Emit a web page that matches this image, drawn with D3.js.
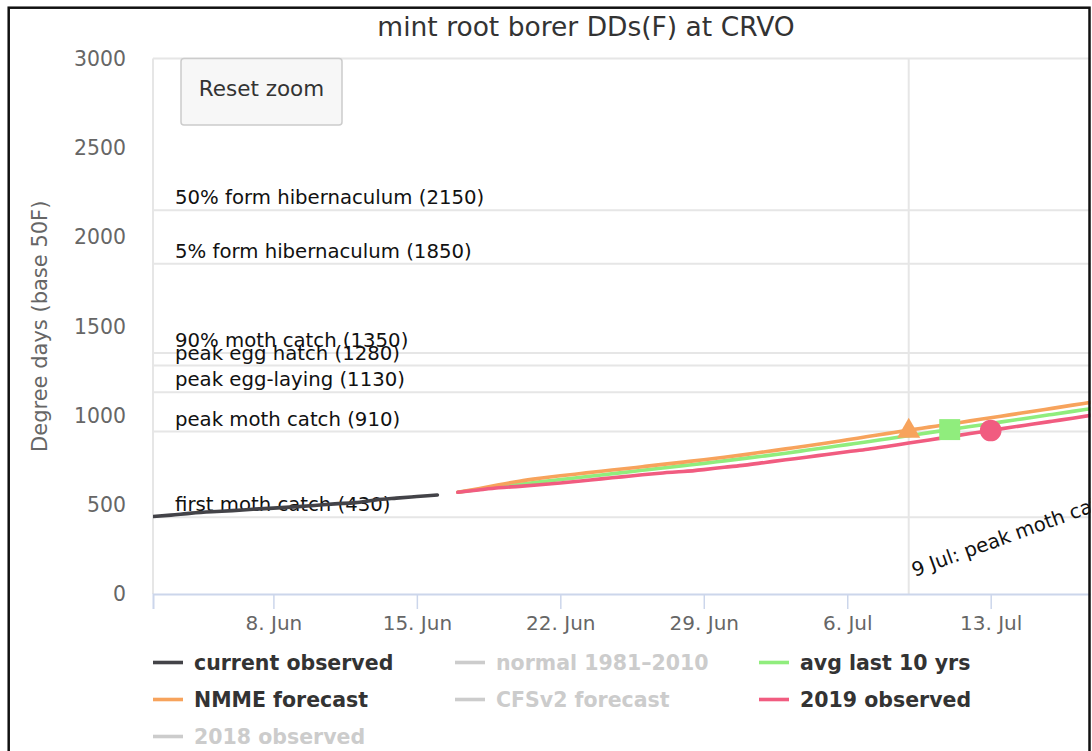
<!DOCTYPE html>
<html><head><meta charset="utf-8">
<script src="https://cdn.jsdelivr.net/npm/d3@7"></script>
<style>
body{margin:0;background:#fff}
svg{display:block}
text{font-family:"DejaVu Sans",sans-serif}
</style>
</head><body>
<svg id="c" width="1092" height="751"></svg>
<script>
// ---------- data ----------
const chartTitle = "mint root borer DDs(F) at CRVO";
const yAxisTitle = "Degree days (base 50F)";
const yTicks = [0, 500, 1000, 1500, 2000, 2500, 3000];
const xTickDates = ["2020-06-08", "2020-06-15", "2020-06-22", "2020-06-29", "2020-07-06", "2020-07-13"];
const xTickLabels = ["8. Jun", "15. Jun", "22. Jun", "29. Jun", "6. Jul", "13. Jul"];

const thresholdValues = [2150, 1850, 1350, 1280, 1130, 910, 430];
const thresholdLabels = ["50% form hibernaculum (2150)", "5% form hibernaculum (1850)", "90% moth catch (1350)",
  "peak egg hatch (1280)", "peak egg-laying (1130)", "peak moth catch (910)", "first moth catch (430)"];

const eventDate = "2020-07-09";
const eventLabel = "9 Jul: peak moth catch";

const currentStart = "2020-06-02";
const currentObserved = [433, 442, 453, 461, 467, 475, 481, 488, 496, 505, 512, 527, 537, 546, 555];

const forecastStart = "2020-06-17";
const nmmeForecast = [570, 590, 612, 632, 648, 662, 675, 688, 700, 713, 726, 739, 752, 766, 781, 797,
  813, 829, 846, 864, 882, 900, 918, 935, 952, 970, 987, 1005, 1022, 1040, 1058, 1076];
const avgLast10 = [570, 585, 600, 614, 628, 641, 654, 667, 680, 693, 706, 719, 732, 746, 760, 774,
  789, 805, 821, 837, 853, 870, 887, 904, 921, 938, 955, 972, 989, 1006, 1023, 1040];
const observed2019 = [570, 583, 595, 603, 612, 622, 633, 645, 656, 668, 678, 686, 697, 710, 722, 737,
  752, 766, 782, 797, 811, 828, 846, 863, 881, 899, 916, 934, 951, 968, 985, 1003];

const legendNames = ["current observed", "normal 1981\u20132010", "avg last 10 yrs", "NMME forecast",
  "CFSv2 forecast", "2019 observed", "2018 observed"];
const legendVisible = [true, false, true, true, false, true, false];

const milestoneSeries = ["NMME forecast", "avg last 10 yrs", "2019 observed"];
const milestoneDates = ["2020-07-09", "2020-07-11", "2020-07-13"];

// ---------- styles ----------
const colors = {
  "current observed": "#434348", "normal 1981\u20132010": "#cccccc", "avg last 10 yrs": "#90ed7d",
  "NMME forecast": "#f7a35c", "CFSv2 forecast": "#cccccc", "2019 observed": "#f15c80", "2018 observed": "#cccccc"
};
const markerShapes = { "NMME forecast": d3.symbolTriangle, "avg last 10 yrs": d3.symbolSquare, "2019 observed": d3.symbolCircle };
const markerSizes = { "NMME forecast": 230, "avg last 10 yrs": 440, "2019 observed": 370 };

// ---------- layout ----------
const svg = d3.select("#c");
const plot = { left: 153, top: 58.5, right: 1100, bottom: 594 };
const parse = d3.utcParse("%Y-%m-%d");

const x = d3.scaleUtc()
  .domain([Date.UTC(2020, 5, 2, 3), Date.UTC(2020, 6, 18, 8)])
  .range([plot.left, plot.right]);
const y = d3.scaleLinear().domain([0, 3000]).range([plot.bottom, plot.top]);

function seriesPoints(start, values) {
  const s = parse(start);
  return values.map((v, i) => ({ date: d3.utcDay.offset(s, i), value: v }));
}
const series = [
  { name: "current observed", points: seriesPoints(currentStart, currentObserved) },
  { name: "avg last 10 yrs", points: seriesPoints(forecastStart, avgLast10) },
  { name: "NMME forecast", points: seriesPoints(forecastStart, nmmeForecast) },
  { name: "2019 observed", points: seriesPoints(forecastStart, observed2019) }
];

svg.append("defs").append("clipPath").attr("id", "plotclip")
  .append("rect").attr("x", plot.left).attr("y", plot.top - 12)
  .attr("width", plot.right - plot.left).attr("height", plot.bottom - plot.top + 12);

// title
svg.append("text").attr("x", 586).attr("y", 36).attr("text-anchor", "middle")
  .attr("fill", "#333").style("font-size", "26.5px").text(chartTitle);

// plot frame lines (top & left)
svg.append("line").attr("x1", plot.left).attr("x2", plot.right).attr("y1", plot.top).attr("y2", plot.top)
  .attr("stroke", "#e6e6e6").attr("stroke-width", 2);
svg.append("line").attr("x1", plot.left).attr("x2", plot.left).attr("y1", plot.top).attr("y2", plot.bottom)
  .attr("stroke", "#e6e6e6").attr("stroke-width", 2);

// threshold plot lines
const th = svg.append("g");
thresholdValues.forEach((v, i) => {
  th.append("line").attr("x1", plot.left).attr("x2", plot.right).attr("y1", y(v)).attr("y2", y(v))
    .attr("stroke", "#e6e6e6").attr("stroke-width", 2);
});
thresholdValues.forEach((v, i) => {
  th.append("text").attr("x", plot.left + 22).attr("y", y(v) - 6)
    .attr("fill", "#111").style("font-size", "19.7px").text(thresholdLabels[i]);
});

// event vertical line
const ex = x(parse(eventDate));
svg.append("line").attr("x1", ex).attr("x2", ex).attr("y1", plot.top).attr("y2", plot.bottom)
  .attr("stroke", "#e6e6e6").attr("stroke-width", 2);
svg.append("text").attr("transform", `translate(${ex + 6},577) rotate(-20)`)
  .attr("fill", "#111").style("font-size", "19.7px").text(eventLabel);

// y axis labels
svg.append("g").selectAll("text").data(yTicks).join("text")
  .attr("x", 126).attr("y", d => y(d)).attr("dy", "0.36em").attr("text-anchor", "end")
  .attr("fill", "#666").style("font-size", "20.4px").text(d => d);
svg.append("text").attr("transform", `translate(47,${(plot.top + plot.bottom) / 2}) rotate(-90)`)
  .attr("text-anchor", "middle").attr("fill", "#666").style("font-size", "21px").text(yAxisTitle);

// x axis
const xAxis = d3.axisBottom(x)
  .tickValues(xTickDates.map(parse))
  .tickFormat((d, i) => xTickLabels[i])
  .tickSize(15).tickPadding(7);
const gx = svg.append("g").attr("transform", `translate(0,${plot.bottom})`).call(xAxis);
gx.select(".domain").attr("stroke", "#ccd6eb").attr("stroke-width", 2);
gx.selectAll(".tick line").attr("stroke", "#ccd6eb").attr("stroke-width", 1.5);
gx.selectAll(".tick text").attr("fill", "#666").style("font-size", "20px")
  .style("font-family", "'DejaVu Sans',sans-serif");

// series lines
const line = d3.line().x(d => x(d.date)).y(d => y(d.value)).curve(d3.curveMonotoneX);
const gl = svg.append("g").attr("clip-path", "url(#plotclip)");
series.forEach(s => {
  gl.append("path").datum(s.points).attr("d", line).attr("fill", "none")
    .attr("stroke", colors[s.name]).attr("stroke-width", 3.6)
    .attr("stroke-linejoin", "round").attr("stroke-linecap", "round");
});

// milestone markers
milestoneSeries.forEach((name, i) => {
  const s = series.find(t => t.name === name);
  const d = parse(milestoneDates[i]);
  const p = s.points.find(q => +q.date === +d);
  gl.append("path")
    .attr("d", d3.symbol().type(markerShapes[name]).size(markerSizes[name])())
    .attr("transform", `translate(${x(p.date)},${y(p.value) + (name === "NMME forecast" ? 1 : 0)})`)
    .attr("fill", colors[name]);
});

// reset zoom button
const btn = svg.append("g");
btn.append("rect").attr("x", 181).attr("y", 58.5).attr("width", 161).attr("height", 66.5).attr("rx", 3)
  .attr("fill", "#f7f7f7").attr("stroke", "#cccccc").attr("stroke-width", 1.5);
btn.append("text").attr("x", 261.5).attr("y", 96).attr("text-anchor", "middle")
  .attr("fill", "#333").style("font-size", "21.5px").text("Reset zoom");

// legend
const legendCols = [153, 455, 759];
const legendRows = [662.5, 699.5, 736.5];
const lg = svg.append("g");
legendNames.forEach((name, i) => {
  const cx = legendCols[i % 3], cy = legendRows[Math.floor(i / 3)];
  const vis = legendVisible[i];
  lg.append("line").attr("x1", cx).attr("x2", cx + 30).attr("y1", cy).attr("y2", cy)
    .attr("stroke", vis ? colors[name] : "#cccccc").attr("stroke-width", 3.6);
  lg.append("text").attr("x", cx + 41).attr("y", cy + 7.5)
    .attr("fill", vis ? "#333333" : "#cccccc").style("font-size", "20.5px").style("font-weight", "bold")
    .text(name);
});

// outer frame
svg.append("rect").attr("x", 1090.5).attr("y", 0).attr("width", 10).attr("height", 751).attr("fill", "#fff");
svg.append("rect").attr("x", 8.7).attr("y", 7.7).attr("width", 1080.8).attr("height", 800)
  .attr("fill", "none").attr("stroke", "#111").attr("stroke-width", 2.5);
</script>
</body></html>
